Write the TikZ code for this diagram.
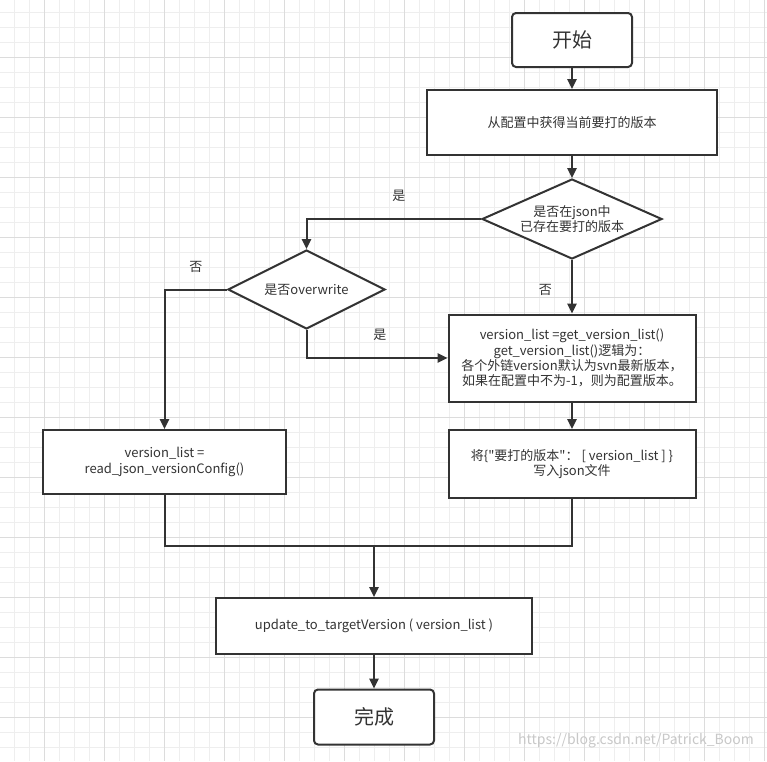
\documentclass[tikz,border=0pt]{standalone}
\usepackage{fontspec}
\setmainfont{Noto Sans CJK SC}[Ligatures=TeXOff]
\usetikzlibrary{arrows.meta,shapes.geometric}
\definecolor{InkGray}{RGB}{51,51,51}
\definecolor{GridMinor}{RGB}{238,238,238}
\definecolor{GridMajor}{RGB}{220,220,220}
\definecolor{MarkGray}{RGB}{200,200,200}

\begin{document}
\begin{tikzpicture}[x=0.75pt,y=-0.75pt,
    every node/.style={font=\fontsize{9.75}{11.4}\selectfont,text=InkGray},
    procbox/.style={draw=InkGray,line width=1.5pt,fill=white,align=center,inner sep=0pt},
    termbox/.style={procbox,rounded corners=3pt,font=\fontsize{15}{18}\selectfont},
    choice/.style={diamond,draw=InkGray,line width=1.5pt,fill=white,align=center,inner sep=0pt,aspect=2.2},
    flow/.style={draw=InkGray,line width=1.5pt,-{Triangle[length=7.5pt,width=7pt]}},
    joinline/.style={draw=InkGray,line width=1.5pt}]
      \useasboundingbox (0,0) rectangle (767,761);
      \fill[white] (0,0) rectangle (767,761);
      % grid paper
      \foreach \k in {0,...,50}
        \draw[GridMinor,line width=0.75pt] (14.3+15*\k,0)--(14.3+15*\k,761) (0,12.7+15*\k)--(767,12.7+15*\k);
      \foreach \k in {0,...,12}
        \draw[GridMajor,line width=0.75pt] (44.3+60*\k,0)--(44.3+60*\k,761) (0,57.7+60*\k)--(767,57.7+60*\k);

      \node[termbox,minimum width=90pt,minimum height=40.5pt] (start) at (572,40) {开始};
      \node[procbox,minimum width=217.5pt,minimum height=48.75pt] (getver) at (572,122.5) {从配置中获得当前要打的版本};
      \node[choice,minimum width=135pt,minimum height=60pt] (injson) at (572,219) {是否在json中\\已存在要打的版本};
      \node[choice,minimum width=117.75pt,minimum height=59.25pt] (overw) at (306.5,289.5) {是否overwrite};
      \node[procbox,minimum width=185.25pt,minimum height=65.25pt] (genlist) at (572,358)
        {version\_list =get\_version\_list()\\get\_version\_list()逻辑为：\\各个外链version默认为svn最新版本，\\如果在配置中不为-1，则为配置版本。};
      \node[procbox,minimum width=185.25pt,minimum height=51pt] (writejson) at (572,464)
        {将\{"要打的版本"：~[ version\_list ] \}\\写入json文件};
      \node[procbox,minimum width=182.25pt,minimum height=48pt] (readjson) at (164.5,462)
        {version\_list =\\read\_json\_versionConfig()};
      \node[procbox,minimum width=237pt,minimum height=42pt] (update) at (374,626)
        {update\_to\_targetVersion ( version\_list )};
      \node[termbox,minimum width=90pt,minimum height=41.25pt] (finish) at (374,717) {完成};
      \coordinate (merge) at (374,546);

      \draw[flow] (start) -- (getver);
      \draw[flow] (getver) -- (injson);
      \draw[flow] (injson.west) -| (overw.north) node[pos=.235,above=9pt]{是};
      \draw[flow] (injson.south) -- (genlist.north) node[pos=.55,left=11pt]{否};
      \draw[flow] (overw.west) -| (readjson.north) node[pos=.25,above=9pt]{否};
      \draw[flow] (overw.south) |- (genlist.west) node[pos=.76,above=9pt]{是};
      \draw[flow] (genlist) -- (writejson);
      \draw[joinline] (readjson.south) |- (merge);
      \draw[joinline] (writejson.south) |- (merge);
      \draw[flow] (merge) -- (update.north);
      \draw[flow] (update) -- (finish);

      \node[text=MarkGray,font=\fontsize{10.5}{12}\selectfont] (mark) at (636,741) {https://blog.csdn.net/Patrick\_Boom};
    \end{tikzpicture}
\end{document}
